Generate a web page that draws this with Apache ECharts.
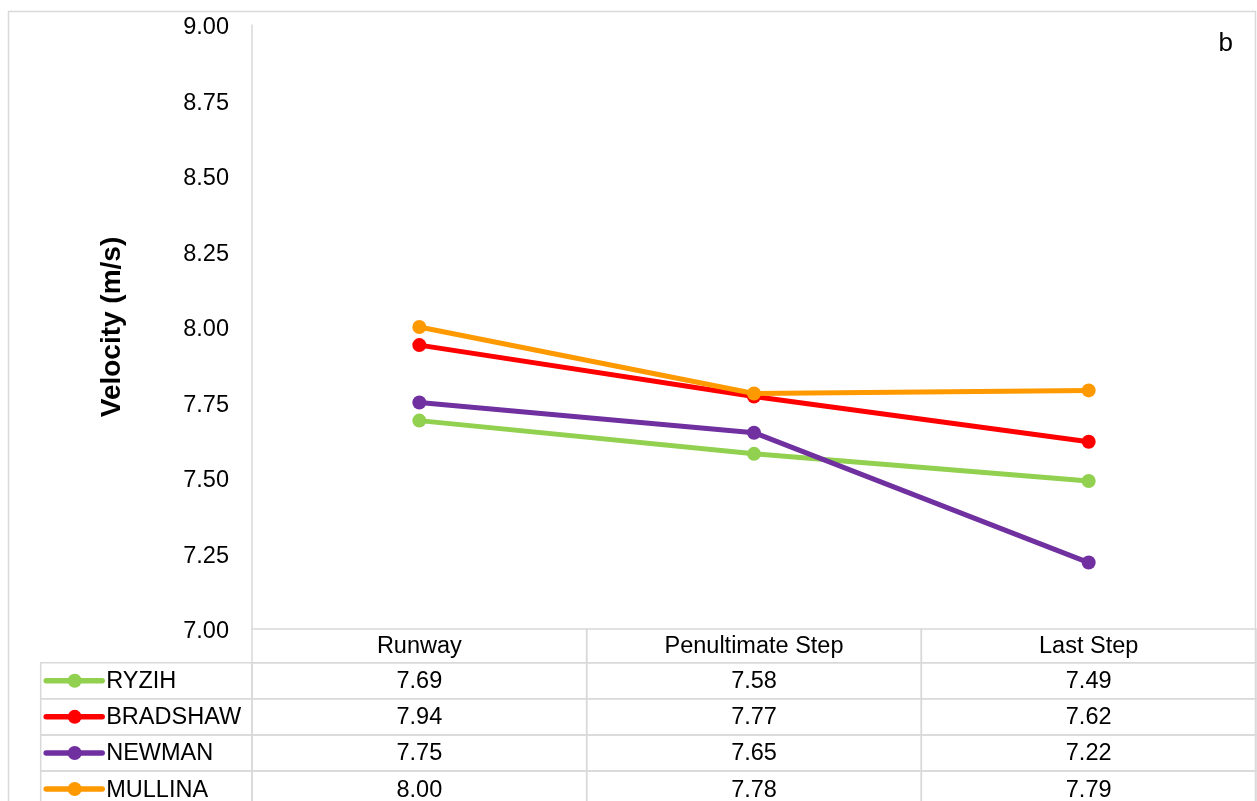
<!DOCTYPE html>
<html>
<head>
<meta charset="utf-8">
<script src="https://cdn.jsdelivr.net/npm/echarts@6/dist/echarts.min.js"></script>
<style>html,body{margin:0;padding:0;background:#fff;}#c{width:1257px;height:801px;}</style>
</head>
<body>
<div id="c"></div>
<script>
const categories = ['Runway', 'Penultimate Step', 'Last Step'];
const seriesNames = ['RYZIH', 'BRADSHAW', 'NEWMAN', 'MULLINA'];
const ryzih = [7.69, 7.58, 7.49];
const bradshaw = [7.94, 7.77, 7.62];
const newman = [7.75, 7.65, 7.22];
const mullina = [8.00, 7.78, 7.79];
const yMin = 7.00, yMax = 9.00, yStep = 0.25;
const yTitle = 'Velocity (m/s)';
const panelLabel = 'b';

const colors = ['#92D050', '#FF0000', '#7030A0', '#FF9900'];
const allValues = [ryzih, bradshaw, newman, mullina];
const FONT = "'Liberation Sans', Arial, sans-serif";
const FS = 23.5;
const GRID_COLOR = '#D9D9D9';
const TABLE_TOP = 662.7, ROW_H = 36.1;
const visibleRows = (801 - TABLE_TOP) / ROW_H;

const tableData = [];
allValues.forEach((vals, r) => vals.forEach((v, c) => tableData.push([c, r, v])));
const headerData = categories.map((c, i) => [i, 0]);
const legendData = seriesNames.map((n, r) => [0, r]);

const chart = echarts.init(document.getElementById('c'), null, {renderer: 'canvas'});

function cellRect(p, w, h) {
  return {type: 'rect', shape: {x: p[0] - w / 2, y: p[1] - h / 2, width: w, height: h},
    style: {fill: 'none', stroke: GRID_COLOR, lineWidth: 1.5}};
}

const option = {
  animation: false,
  backgroundColor: '#fff',
  title: {text: panelLabel, right: 24, top: 31, padding: 0,
    textStyle: {fontFamily: FONT, fontSize: 26, fontWeight: 'normal', color: '#000'}},
  graphic: [{type: 'rect', silent: true, z: 100,
    shape: {x: 8.5, y: 11.5, width: 1247, height: 800},
    style: {fill: 'none', stroke: GRID_COLOR, lineWidth: 1.5}}],
  grid: [
    {left: 252, right: 1, top: 25, bottom: 172},
    {left: 252, right: 1, top: 629, height: 33.7},
    {left: 252, right: 1, top: TABLE_TOP, bottom: 0}
  ],
  xAxis: [
    {type: 'category', gridIndex: 0, data: categories, boundaryGap: true,
      axisLine: {show: false}, axisTick: {show: false}, axisLabel: {show: false}, splitLine: {show: false}},
    {type: 'category', gridIndex: 1, data: categories, show: false},
    {type: 'category', gridIndex: 2, data: categories, show: false}
  ],
  yAxis: [
    {type: 'value', gridIndex: 0, min: yMin, max: yMax, interval: yStep,
      name: yTitle, nameLocation: 'middle', nameRotate: 90, nameGap: 126,
      nameTextStyle: {fontFamily: FONT, fontSize: 28, fontWeight: 'bold', color: '#000'},
      axisLine: {show: true, lineStyle: {color: GRID_COLOR, width: 1.5}},
      axisTick: {show: false}, splitLine: {show: false},
      axisLabel: {margin: 23, fontFamily: FONT, fontSize: FS, color: '#000',
        formatter: v => '{t|' + v.toFixed(2) + '}',
        rich: {t: {fontFamily: FONT, fontSize: FS, color: '#000', padding: [6, 0, 0, 0]}}}},
    {type: 'category', gridIndex: 1, data: ['h'], show: false},
    {type: 'value', gridIndex: 2, inverse: true, min: -0.5, max: -0.5 + visibleRows, show: false}
  ],
  series: [
    ...seriesNames.map((name, i) => ({
      name, type: 'line', xAxisIndex: 0, yAxisIndex: 0, data: allValues[i],
      symbol: 'circle', symbolSize: 14, showSymbol: true,
      itemStyle: {color: colors[i]}, lineStyle: {color: colors[i], width: 5}, z: 3 + i
    })),
    {type: 'custom', xAxisIndex: 1, yAxisIndex: 1, data: headerData, encode: {x: 0, y: 1}, clip: false,
      renderItem: (params, api) => {
        const c = api.value(0);
        const p = api.coord([c, 0]); const s = api.size([1, 1]);
        return {type: 'group', children: [cellRect(p, s[0], s[1]),
          {type: 'text', style: {text: categories[c], x: p[0], y: p[1] + 1, align: 'center', verticalAlign: 'middle',
            fontFamily: FONT, fontSize: FS, fill: '#000'}}]};
      }},
    {type: 'custom', xAxisIndex: 2, yAxisIndex: 2, data: tableData, encode: {x: 0, y: 1}, clip: false,
      renderItem: (params, api) => {
        const c = api.value(0), r = api.value(1), v = api.value(2);
        const p = api.coord([c, r]); const s = api.size([1, 1]);
        return {type: 'group', children: [cellRect(p, s[0], s[1]),
          {type: 'text', style: {text: v.toFixed(2), x: p[0], y: p[1] + 1, align: 'center', verticalAlign: 'middle',
            fontFamily: FONT, fontSize: FS, fill: '#000'}}]};
      }},
    {type: 'custom', xAxisIndex: 2, yAxisIndex: 2, data: legendData, encode: {x: 0, y: 1}, clip: false,
      renderItem: (params, api) => {
        const r = api.value(1);
        const cs = params.coordSys;
        const p = api.coord([0, r]); const s = api.size([1, 1]);
        const left = cs.x - 211.3;
        return {type: 'group', children: [
          {type: 'rect', shape: {x: left, y: p[1] - s[1] / 2, width: 211.3, height: s[1]},
            style: {fill: 'none', stroke: GRID_COLOR, lineWidth: 1.5}},
          {type: 'line', shape: {x1: left + 5.5, y1: p[1], x2: left + 61.5, y2: p[1]},
            style: {stroke: colors[r], lineWidth: 5.5, lineCap: 'round'}},
          {type: 'circle', shape: {cx: left + 34, cy: p[1], r: 7}, style: {fill: colors[r]}},
          {type: 'text', style: {text: seriesNames[r], x: left + 65.5, y: p[1] + 1, align: 'left', verticalAlign: 'middle',
            fontFamily: FONT, fontSize: FS, fill: '#000'}}
        ]};
      }}
  ]
};
chart.setOption(option);
</script>
</body>
</html>
